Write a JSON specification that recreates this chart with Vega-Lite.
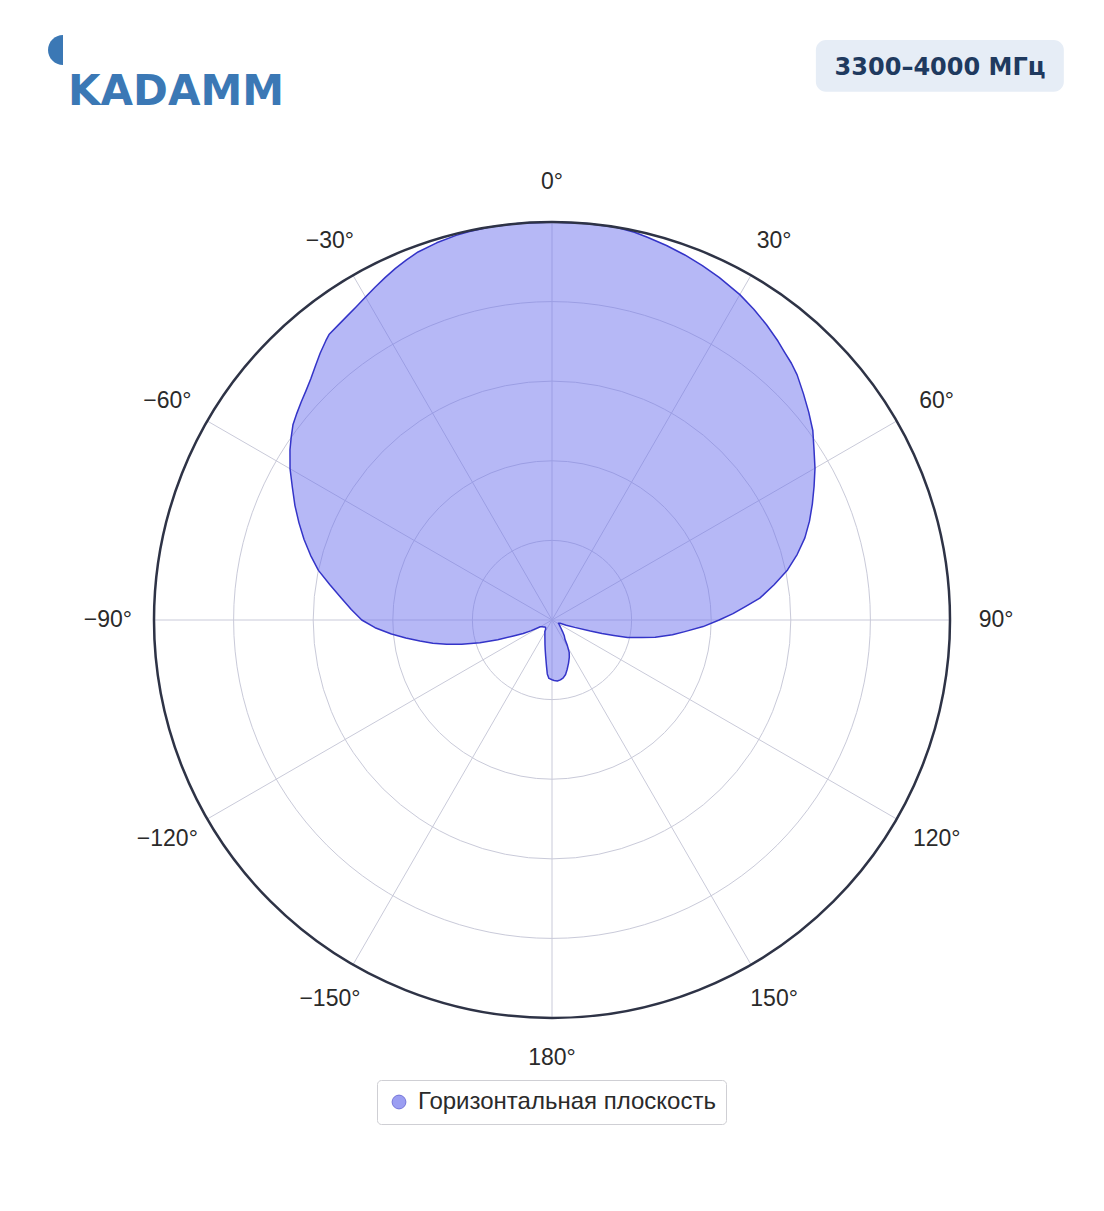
{
  "$schema": "https://vega.github.io/schema/vega-lite/v6.json",
  "width": 796,
  "height": 796,
  "autosize": {"type": "none"},
  "padding": {"left": 154, "top": 222, "right": 154, "bottom": 193},
  "background": "white",
  "config": {"view": {"stroke": null}, "font": "Liberation Sans"},
  "datasets": {
    "pattern": [
      {"angle": -180, "gain": 0.150}, {"angle": -177, "gain": 0.147}, {"angle": -175, "gain": 0.136},
      {"angle": -173, "gain": 0.115}, {"angle": -170, "gain": 0.092}, {"angle": -167, "gain": 0.076},
      {"angle": -164, "gain": 0.064}, {"angle": -160, "gain": 0.052}, {"angle": -156, "gain": 0.044},
      {"angle": -152, "gain": 0.038}, {"angle": -148, "gain": 0.034}, {"angle": -145, "gain": 0.028},
      {"angle": -140, "gain": 0.025}, {"angle": -135, "gain": 0.025}, {"angle": -130, "gain": 0.027},
      {"angle": -125, "gain": 0.030}, {"angle": -120, "gain": 0.034}, {"angle": -117, "gain": 0.060},
      {"angle": -115, "gain": 0.080}, {"angle": -112.5, "gain": 0.105}, {"angle": -110, "gain": 0.145},
      {"angle": -107.5, "gain": 0.190}, {"angle": -105, "gain": 0.235}, {"angle": -103, "gain": 0.272},
      {"angle": -101, "gain": 0.305}, {"angle": -99, "gain": 0.336}, {"angle": -97, "gain": 0.370},
      {"angle": -95, "gain": 0.405}, {"angle": -92.5, "gain": 0.445}, {"angle": -90, "gain": 0.478},
      {"angle": -87, "gain": 0.505}, {"angle": -84, "gain": 0.533}, {"angle": -81, "gain": 0.565},
      {"angle": -78, "gain": 0.600}, {"angle": -75, "gain": 0.628}, {"angle": -72, "gain": 0.655},
      {"angle": -69, "gain": 0.681}, {"angle": -66, "gain": 0.707}, {"angle": -63, "gain": 0.732},
      {"angle": -60, "gain": 0.760}, {"angle": -57, "gain": 0.785}, {"angle": -55, "gain": 0.800},
      {"angle": -53, "gain": 0.815}, {"angle": -51, "gain": 0.825}, {"angle": -49, "gain": 0.835},
      {"angle": -47, "gain": 0.845}, {"angle": -45, "gain": 0.857}, {"angle": -43, "gain": 0.872},
      {"angle": -41, "gain": 0.888}, {"angle": -39, "gain": 0.903}, {"angle": -38, "gain": 0.910},
      {"angle": -36, "gain": 0.915}, {"angle": -34, "gain": 0.921}, {"angle": -32, "gain": 0.928},
      {"angle": -30, "gain": 0.937}, {"angle": -28, "gain": 0.947}, {"angle": -26, "gain": 0.957},
      {"angle": -24, "gain": 0.967}, {"angle": -22, "gain": 0.976}, {"angle": -20, "gain": 0.984},
      {"angle": -17, "gain": 0.991}, {"angle": -14, "gain": 0.996}, {"angle": -12, "gain": 0.998},
      {"angle": -9, "gain": 1.0}, {"angle": -5, "gain": 1.0}, {"angle": 0, "gain": 1.0}, {"angle": 5, "gain": 1.0},
      {"angle": 9, "gain": 1.0}, {"angle": 12, "gain": 0.996}, {"angle": 14, "gain": 0.991},
      {"angle": 17, "gain": 0.984}, {"angle": 20, "gain": 0.976}, {"angle": 23, "gain": 0.967},
      {"angle": 26, "gain": 0.958}, {"angle": 30, "gain": 0.944}, {"angle": 33, "gain": 0.931},
      {"angle": 36, "gain": 0.917}, {"angle": 39, "gain": 0.902}, {"angle": 41, "gain": 0.891},
      {"angle": 43, "gain": 0.882}, {"angle": 45, "gain": 0.871}, {"angle": 48, "gain": 0.850},
      {"angle": 51, "gain": 0.830}, {"angle": 54, "gain": 0.810}, {"angle": 57, "gain": 0.785},
      {"angle": 60, "gain": 0.763}, {"angle": 63, "gain": 0.739}, {"angle": 66, "gain": 0.716},
      {"angle": 69, "gain": 0.693}, {"angle": 72, "gain": 0.668}, {"angle": 75, "gain": 0.638},
      {"angle": 78, "gain": 0.605}, {"angle": 81, "gain": 0.565}, {"angle": 84, "gain": 0.525},
      {"angle": 86, "gain": 0.488}, {"angle": 88, "gain": 0.455}, {"angle": 90, "gain": 0.420},
      {"angle": 92.5, "gain": 0.380}, {"angle": 95, "gain": 0.335}, {"angle": 97, "gain": 0.305},
      {"angle": 99.5, "gain": 0.263}, {"angle": 101, "gain": 0.230}, {"angle": 103, "gain": 0.195},
      {"angle": 104, "gain": 0.160}, {"angle": 105, "gain": 0.130}, {"angle": 106, "gain": 0.100},
      {"angle": 108, "gain": 0.060}, {"angle": 110, "gain": 0.038}, {"angle": 112, "gain": 0.022},
      {"angle": 116, "gain": 0.018}, {"angle": 120, "gain": 0.020}, {"angle": 126, "gain": 0.024},
      {"angle": 132, "gain": 0.030}, {"angle": 138, "gain": 0.040}, {"angle": 142, "gain": 0.050},
      {"angle": 146, "gain": 0.058}, {"angle": 149, "gain": 0.075}, {"angle": 152, "gain": 0.092},
      {"angle": 155, "gain": 0.103}, {"angle": 159, "gain": 0.116}, {"angle": 163, "gain": 0.130},
      {"angle": 166, "gain": 0.141}, {"angle": 169, "gain": 0.148}, {"angle": 172, "gain": 0.152},
      {"angle": 175, "gain": 0.154}, {"angle": 178, "gain": 0.152}
    ],
    "rings": [{"r": 0.2}, {"r": 0.4}, {"r": 0.6}, {"r": 0.8}],
    "spokes": [
      {"angle": 0, "label": "0°"}, {"angle": 30, "label": "30°"}, {"angle": 60, "label": "60°"},
      {"angle": 90, "label": "90°"}, {"angle": 120, "label": "120°"}, {"angle": 150, "label": "150°"},
      {"angle": 180, "label": "180°"}, {"angle": 210, "label": "−150°"}, {"angle": 240, "label": "−120°"},
      {"angle": 270, "label": "−90°"}, {"angle": 300, "label": "−60°"}, {"angle": 330, "label": "−30°"}
    ]
  },
  "layer": [
    {
      "data": {"name": "rings"},
      "transform": [{"calculate": "0", "as": "cx"}, {"calculate": "0", "as": "cy"}],
      "mark": {"type": "point", "shape": "circle", "filled": false, "stroke": "#c9cad9", "strokeWidth": 1, "opacity": 1},
      "encoding": {
        "x": {"field": "cx", "type": "quantitative", "scale": {"domain": [-1, 1]}, "axis": null},
        "y": {"field": "cy", "type": "quantitative", "scale": {"domain": [-1, 1]}, "axis": null},
        "size": {"field": "r", "type": "quantitative", "scale": {"type": "pow", "exponent": 2, "domain": [0, 1], "range": [0, 633616]}, "legend": null}
      }
    },
    {
      "data": {"name": "spokes"},
      "transform": [
        {"calculate": "0", "as": "cx"},
        {"calculate": "0", "as": "cy"},
        {"calculate": "sin(datum.angle*PI/180)", "as": "sx"},
        {"calculate": "cos(datum.angle*PI/180)", "as": "sy"}
      ],
      "mark": {"type": "rule", "stroke": "#c9cad9", "strokeWidth": 1},
      "encoding": {
        "x": {"field": "cx", "type": "quantitative", "scale": {"domain": [-1, 1]}, "axis": null},
        "y": {"field": "cy", "type": "quantitative", "scale": {"domain": [-1, 1]}, "axis": null},
        "x2": {"field": "sx"},
        "y2": {"field": "sy"}
      }
    },
    {
      "data": {"name": "pattern"},
      "transform": [
        {"calculate": "datum.gain*sin(datum.angle*PI/180)", "as": "px"},
        {"calculate": "datum.gain*cos(datum.angle*PI/180)", "as": "py"},
        {"calculate": "'Горизонтальная плоскость'", "as": "series"}
      ],
      "mark": {"type": "line", "interpolate": "linear-closed", "fill": "#6d71ed", "fillOpacity": 0.5, "strokeWidth": 1.5, "strokeJoin": "round"},
      "encoding": {
        "x": {"field": "px", "type": "quantitative", "scale": {"domain": [-1, 1]}, "axis": null},
        "y": {"field": "py", "type": "quantitative", "scale": {"domain": [-1, 1]}, "axis": null},
        "order": {"field": "angle", "type": "quantitative"},
        "color": {
          "field": "series",
          "type": "nominal",
          "scale": {"range": ["#3434c8"]},
          "legend": {
            "title": null,
            "orient": "none",
            "legendX": 223,
            "legendY": 858,
            "symbolType": "circle",
            "symbolSize": 190,
            "symbolOpacity": 0.68,
            "symbolStrokeWidth": 1,
            "labelFontSize": 24,
            "labelColor": "#2a2a2a",
            "labelFont": "Liberation Sans",
            "labelLimit": 500,
            "labelOffset": 7,
            "padding": 10,
            "strokeColor": "#cfcfd4",
            "fillColor": "white",
            "cornerRadius": 4
          }
        }
      }
    },
    {
      "data": {"values": [{"r": 1}]},
      "transform": [{"calculate": "0", "as": "cx"}, {"calculate": "0", "as": "cy"}],
      "mark": {"type": "point", "shape": "circle", "filled": false, "stroke": "#2e3346", "strokeWidth": 2.5, "opacity": 1},
      "encoding": {
        "x": {"field": "cx", "type": "quantitative", "scale": {"domain": [-1, 1]}, "axis": null},
        "y": {"field": "cy", "type": "quantitative", "scale": {"domain": [-1, 1]}, "axis": null},
        "size": {"field": "r", "type": "quantitative", "scale": {"type": "pow", "exponent": 2, "domain": [0, 1], "range": [0, 633616]}, "legend": null}
      }
    },
    {
      "data": {"name": "spokes"},
      "transform": [
        {"calculate": "1.116*sin(datum.angle*PI/180)", "as": "lx"},
        {"calculate": "1.101*cos(datum.angle*PI/180)", "as": "ly"}
      ],
      "mark": {"type": "text", "fontSize": 23, "color": "#2a2a2a", "align": "center", "baseline": "middle", "font": "Liberation Sans"},
      "encoding": {
        "x": {"field": "lx", "type": "quantitative", "scale": {"domain": [-1, 1]}, "axis": null},
        "y": {"field": "ly", "type": "quantitative", "scale": {"domain": [-1, 1]}, "axis": null},
        "text": {"field": "label", "type": "nominal"}
      }
    },
    {
      "data": {"values": [{"badge": "3300–4000 МГц"}]},
      "transform": [
        {"calculate": "0.663", "as": "bx1"}, {"calculate": "1.286", "as": "bx2"},
        {"calculate": "1.457", "as": "by1"}, {"calculate": "1.327", "as": "by2"}
      ],
      "mark": {"type": "rect", "fill": "#e6edf6", "cornerRadius": 10},
      "encoding": {
        "x": {"field": "bx1", "type": "quantitative", "scale": {"domain": [-1, 1]}, "axis": null},
        "x2": {"field": "bx2"},
        "y": {"field": "by1", "type": "quantitative", "scale": {"domain": [-1, 1]}, "axis": null},
        "y2": {"field": "by2"}
      }
    },
    {
      "data": {"values": [{"badge": "3300–4000 МГц"}]},
      "transform": [{"calculate": "0.975", "as": "tx"}, {"calculate": "1.387", "as": "ty"}],
      "mark": {"type": "text", "font": "DejaVu Sans", "fontWeight": "bold", "fontSize": 24, "color": "#1f3a5f", "align": "center", "baseline": "middle"},
      "encoding": {
        "x": {"field": "tx", "type": "quantitative", "scale": {"domain": [-1, 1]}, "axis": null},
        "y": {"field": "ty", "type": "quantitative", "scale": {"domain": [-1, 1]}, "axis": null},
        "text": {"field": "badge", "type": "nominal"}
      }
    },
    {
      "data": {"values": [{"logo": "KADAMM"}]},
      "transform": [{"calculate": "-1.216", "as": "tx"}, {"calculate": "1.294", "as": "ty"}],
      "mark": {"type": "text", "font": "DejaVu Sans", "fontWeight": "bold", "fontSize": 42, "color": "#3b78b5", "align": "left", "baseline": "alphabetic"},
      "encoding": {
        "x": {"field": "tx", "type": "quantitative", "scale": {"domain": [-1, 1]}, "axis": null},
        "y": {"field": "ty", "type": "quantitative", "scale": {"domain": [-1, 1]}, "axis": null},
        "text": {"field": "logo", "type": "nominal"}
      }
    },
    {
      "data": {"values": [{"logo": "KADAMM"}]},
      "transform": [{"calculate": "-1.2286", "as": "tx"}, {"calculate": "1.432", "as": "ty"}],
      "mark": {"type": "point", "shape": "M0,-1 A1,1 0 0,0 0,1 Z", "filled": true, "fill": "#3b78b5", "size": 900, "opacity": 1},
      "encoding": {
        "x": {"field": "tx", "type": "quantitative", "scale": {"domain": [-1, 1]}, "axis": null},
        "y": {"field": "ty", "type": "quantitative", "scale": {"domain": [-1, 1]}, "axis": null}
      }
    }
  ]
}
